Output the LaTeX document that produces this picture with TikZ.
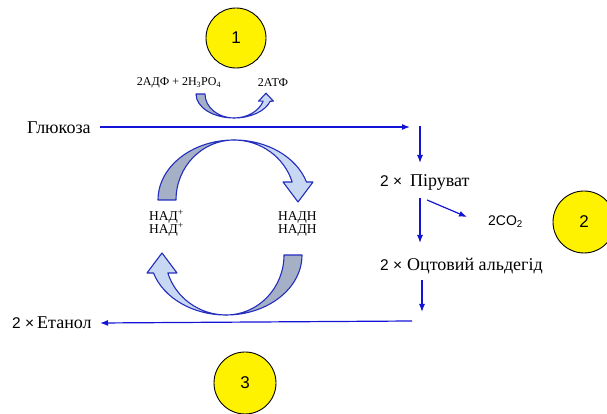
\documentclass[tikz,border=0pt]{standalone}
\usepackage{fontspec}
\setmainfont{Liberation Serif}
\setsansfont{Liberation Sans}
\usetikzlibrary{arrows.meta}
\definecolor{lineblue}{RGB}{20,20,215}
\definecolor{edgeblue}{RGB}{35,45,190}
\definecolor{lightfill}{RGB}{200,216,242}
\definecolor{darkfill}{RGB}{165,176,198}
\tikzset{
  flow/.style={draw=lineblue, line width=1.2pt, -{Latex[length=8pt,width=6pt]}},
  ring/.style={draw=edgeblue, line width=1.1pt, line join=round},
  badge/.style={circle, draw=black, line width=0.9pt, fill=yellow, minimum size=60pt, inner sep=0pt, font=\sffamily\fontsize{17}{17}\selectfont},
  lbl/.style={inner sep=0pt, anchor=west},
  big/.style={font=\rmfamily\fontsize{18}{18}\selectfont},
  mid/.style={font=\rmfamily\fontsize{13.5}{13.5}\selectfont},
  small/.style={font=\rmfamily\fontsize{12}{12}\selectfont},
}
\newcommand\mytimes{{\sffamily\fontsize{15.5}{15.5}\selectfont 2 ×}}
\newcommand\myringarrow{%
  \draw[ring, fill=darkfill] (-76,0) arc[start angle=180,end angle=90,x radius=76,y radius=60]
     arc[start angle=90,end angle=180,x radius=58,y radius=60] -- cycle;
  \draw[ring, fill=lightfill] (0,60) arc[start angle=90,end angle=17.5,x radius=76,y radius=60]
     -- (79,18) -- (64,-2) -- (49,18) -- (58.17,18)
     arc[start angle=17.5,end angle=90,x radius=61,y radius=60] -- cycle;
}
\begin{document}
\begin{tikzpicture}[x=1pt,y=1pt]
\useasboundingbox (0,0) rectangle (607,414);
% badges
\node[badge] (b1) at (236,376) {1};
\node[badge, minimum size=62pt] (b2) at (584,192) {2};
\node[badge, minimum size=62pt] (b3) at (245,31) {3};
% ring arrows
\begin{scope}[shift={(234,214)}]\myringarrow\end{scope}
\begin{scope}[shift={(226,159)}, rotate=180]\myringarrow\end{scope}
\begin{scope}[shift={(234,320)}, xscale=0.5, yscale=-0.4]\myringarrow\end{scope}
% texts
\node[inner sep=0pt, small] (adp) at (179,331) {2АДФ + 2H\textsubscript{3}PO\textsubscript{4}};
\node[inner sep=0pt, small] (atp) at (273,331) {2АТФ};
\node[lbl, big] (gluc) at (27,286) {Глюкоза};
\node[lbl, mid] (nad1) at (149,197) {НАД\textsuperscript{+}};
\node[lbl, mid] (nad2) at (149,184) {НАД\textsuperscript{+}};
\node[lbl, mid] (nadh1) at (278,197) {НАДН};
\node[lbl, mid] (nadh2) at (278,184) {НАДН};
\node[lbl, big] (pyr) at (380,232) {\mytimes\hspace{8pt}Піруват};
\node[lbl, font=\sffamily\fontsize{14}{14}\selectfont] (co2) at (488,192) {2CO\textsubscript{2}};
\node[lbl, big] (ald) at (380,148) {\mytimes\hspace{5pt}Оцтовий альдегід};
\node[lbl, big] (eth) at (12,91) {\mytimes\hspace{3pt}Етанол};
% connector end points
\coordinate (g1) at (100,287); \coordinate (g2) at (410,287);
\coordinate (v1) at (420,288); \coordinate (v2) at (420,251);
\coordinate (p1) at (420,216); \coordinate (p2) at (420,171);
\coordinate (d1) at (427,214); \coordinate (d2) at (467,197);
\coordinate (a1) at (422,134); \coordinate (a2) at (422,102);
\coordinate (e1) at (412,93);  \coordinate (e2) at (100,91);
\draw[flow] (g1) -- (g2);
\draw[flow] (v1) -- (v2);
\draw[flow] (p1) -- (p2);
\draw[flow] (d1) -- (d2);
\draw[flow] (a1) -- (a2);
\draw[flow] (e1) -- (e2);
\end{tikzpicture}
\end{document}
